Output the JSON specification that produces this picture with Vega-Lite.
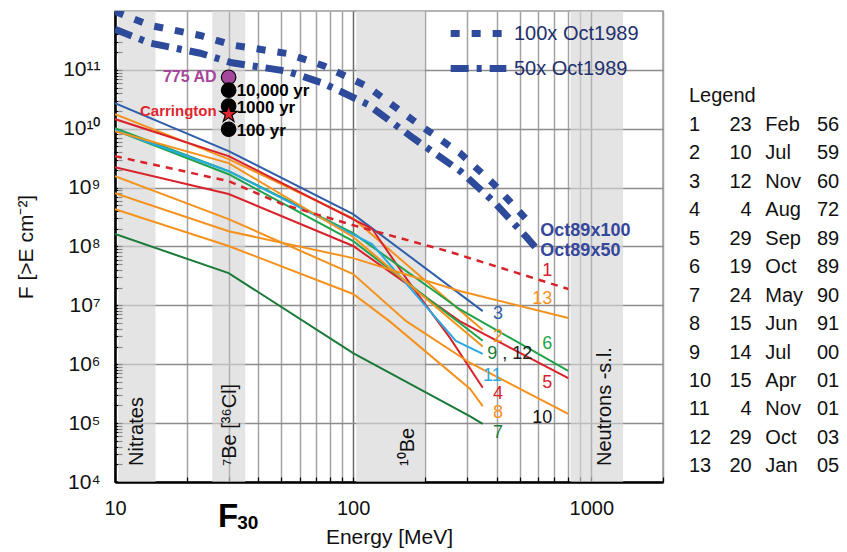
{
"$schema": "https://vega.github.io/schema/vega-lite/v6.json",
"background": "white",
"padding": {"left": 14, "top": 10, "right": 0, "bottom": 0},
"config": {"font": "Liberation Sans", "view": {"stroke": null}, "axis": {"labelColor": "#111", "titleColor": "#111"}},
"datasets": {
"bands": [{"lo": 10.3, "hi": 14.8}, {"lo": 25.6, "hi": 35.2}, {"lo": 103, "hi": 200}, {"lo": 818, "hi": 1360}],
"thin": [
{"ev":"1","E":10,"F":3.43e9},{"ev":"1","E":30,"F":1.29e9},{"ev":"1","E":50,"F":5.3e8},{"ev":"1","E":100,"F":2.3e8},{"ev":"1","E":250,"F":8.3e7},{"ev":"1","E":800,"F":1.9e7},
{"ev":"2","E":10,"F":1.77e10},{"ev":"2","E":30,"F":3.05e9},{"ev":"2","E":100,"F":3.0e8},{"ev":"2","E":350,"F":3.8e6},
{"ev":"3","E":10,"F":2.72e10},{"ev":"3","E":30,"F":4.17e9},{"ev":"3","E":100,"F":3.55e8},{"ev":"3","E":350,"F":8.0e6},
{"ev":"4","E":10,"F":1.46e10},{"ev":"4","E":30,"F":3.43e9},{"ev":"4","E":120,"F":2.0e8},{"ev":"4","E":170,"F":2.6e7},{"ev":"4","E":255,"F":2.8e6},{"ev":"4","E":350,"F":4.0e5},
{"ev":"5","E":10,"F":2.23e9},{"ev":"5","E":30,"F":7.8e8},{"ev":"5","E":100,"F":1.02e8},{"ev":"5","E":280,"F":5.4e6},{"ev":"5","E":800,"F":5.8e5},
{"ev":"6","E":10,"F":1.02e10},{"ev":"6","E":30,"F":1.91e9},{"ev":"6","E":100,"F":1.69e8},{"ev":"6","E":280,"F":8.6e6},{"ev":"6","E":800,"F":7.7e5},
{"ev":"7","E":10,"F":1.63e8},{"ev":"7","E":30,"F":3.53e7},{"ev":"7","E":100,"F":1.55e6},{"ev":"7","E":310,"F":1.3e5},{"ev":"7","E":350,"F":9.7e4},
{"ev":"8","E":10,"F":4.31e8},{"ev":"8","E":30,"F":1.02e8},{"ev":"8","E":100,"F":1.56e7},{"ev":"8","E":142,"F":5.4e6},{"ev":"8","E":310,"F":3.8e5},{"ev":"8","E":350,"F":1.95e5},
{"ev":"9","E":10,"F":9.5e9},{"ev":"9","E":30,"F":1.69e9},{"ev":"9","E":100,"F":1.24e8},{"ev":"9","E":350,"F":2.5e6},
{"ev":"10","E":10,"F":1.57e9},{"ev":"10","E":30,"F":2.92e8},{"ev":"10","E":100,"F":3.4e7},{"ev":"10","E":167,"F":5.4e6},{"ev":"10","E":310,"F":1.05e6},{"ev":"10","E":800,"F":1.43e5},
{"ev":"11","E":10,"F":9.5e9},{"ev":"11","E":30,"F":1.9e9},{"ev":"11","E":120,"F":1.1e8},{"ev":"11","E":270,"F":2.5e6},{"ev":"11","E":350,"F":1.5e6},
{"ev":"12","E":10,"F":9.1e9},{"ev":"12","E":30,"F":2.61e9},{"ev":"12","E":100,"F":1.45e8},{"ev":"12","E":350,"F":2.0e6},
{"ev":"13","E":10,"F":8.07e8},{"ev":"13","E":30,"F":1.82e8},{"ev":"13","E":100,"F":6.35e7},{"ev":"13","E":280,"F":1.75e7},{"ev":"13","E":800,"F":6.1e6}
],
"blue": [
{"s":"50x Oct1989","E":10,"F":4.9e11},{"s":"50x Oct1989","E":14,"F":2.85e11},{"s":"50x Oct1989","E":22.8,"F":1.92e11},{"s":"50x Oct1989","E":31,"F":1.32e11},{"s":"50x Oct1989","E":52.7,"F":9.5e10},{"s":"50x Oct1989","E":75,"F":5.9e10},{"s":"50x Oct1989","E":115,"F":2.6e10},{"s":"50x Oct1989","E":179,"F":6.9e9},{"s":"50x Oct1989","E":282,"F":1.9e9},{"s":"50x Oct1989","E":387,"F":5.9e8},{"s":"50x Oct1989","E":538,"F":1.4e8},{"s":"50x Oct1989","E":600,"F":8.4e7},
{"s":"100x Oct1989","E":10,"F":9.8e11},{"s":"100x Oct1989","E":14,"F":5.7e11},{"s":"100x Oct1989","E":22.8,"F":3.84e11},{"s":"100x Oct1989","E":31,"F":2.64e11},{"s":"100x Oct1989","E":52.7,"F":1.9e11},{"s":"100x Oct1989","E":75,"F":1.18e11},{"s":"100x Oct1989","E":115,"F":5.2e10},{"s":"100x Oct1989","E":179,"F":1.38e10},{"s":"100x Oct1989","E":282,"F":3.8e9},{"s":"100x Oct1989","E":387,"F":1.18e9},{"s":"100x Oct1989","E":538,"F":2.8e8},{"s":"100x Oct1989","E":555,"F":2.4e8}
],
"labs": [
{"k":"1","t":"1","E":653,"F":3.9e7},{"k":"13","t":"13","E":622,"F":1.28e7},{"k":"3","t":"3","E":406,"F":7.1e6},{"k":"2","t":"2","E":406,"F":2.9e6},{"k":"6","t":"6","E":653,"F":2.2e6},{"k":"9","t":"9","E":384,"F":1.49e6},{"k":"12","t":", 12","E":489,"F":1.49e6},{"k":"11","t":"11","E":384,"F":6.3e5},{"k":"5","t":"5","E":653,"F":4.8e5},{"k":"4","t":"4","E":406,"F":3.1e5},{"k":"8","t":"8","E":406,"F":1.5e5},{"k":"10","t":"10","E":622,"F":1.22e5},{"k":"7","t":"7","E":406,"F":6.8e4}
],
"oct": [{"t":"Oct89x100","E":611,"F":1.82e8},{"t":"Oct89x50","E":611,"F":8.4e7}],
"pts": [{"kind":"775 AD","E":30,"F":7.5e10},{"kind":"10,000 yr","E":30,"F":4.52e10},{"kind":"1000 yr","E":30,"F":2.42e10},{"kind":"100 yr","E":30,"F":9.8e9}],
"star": [{"kind":"Carrington","E":30,"F":1.77e10}],
"annR": [{"t":"775 AD","E":30,"F":7.6e10},{"t":"Carrington","E":30,"F":1.99e10}],
"annL": [{"t":"10,000 yr","E":30,"F":4.4e10},{"t":"1000 yr","E":30,"F":2.24e10},{"t":"100 yr","E":30,"F":9.1e9}],
"bandlab": [{"t":"Nitrates","E":12.4,"F":1.87e4},{"t":"⁷Be [³⁶Cl]","E":30.5,"F":1.87e4},{"t":"¹⁰Be","E":170,"F":1.87e4},{"t":"Neutrons -s.l.","E":1145,"F":1.87e4}],
"f30": [{"t":"F","E":27.1,"F":1722},{"t":"30","E":32.6,"F":1594}],
"tab": [
{"r":0,"num":"Legend","day":"","mon":"","yr":""},
{"r":1,"num":"1","day":"23","mon":"Feb","yr":"56"},
{"r":2,"num":"2","day":"10","mon":"Jul","yr":"59"},
{"r":3,"num":"3","day":"12","mon":"Nov","yr":"60"},
{"r":4,"num":"4","day":"4","mon":"Aug","yr":"72"},
{"r":5,"num":"5","day":"29","mon":"Sep","yr":"89"},
{"r":6,"num":"6","day":"19","mon":"Oct","yr":"89"},
{"r":7,"num":"7","day":"24","mon":"May","yr":"90"},
{"r":8,"num":"8","day":"15","mon":"Jun","yr":"91"},
{"r":9,"num":"9","day":"14","mon":"Jul","yr":"00"},
{"r":10,"num":"10","day":"15","mon":"Apr","yr":"01"},
{"r":11,"num":"11","day":"4","mon":"Nov","yr":"01"},
{"r":12,"num":"12","day":"29","mon":"Oct","yr":"03"},
{"r":13,"num":"13","day":"20","mon":"Jan","yr":"05"}
]
},
"spacing": 24,
"hconcat": [
{
"width": 548, "height": 471,
"view": {"stroke": "#9a9a9a", "strokeWidth": 1.5},
"resolve": {"scale": {"color": "independent", "strokeDash": "independent"}},
"layer": [
{
"data": {"name": "bands"},
"mark": {"type": "rect", "color": "#d6d6d6", "opacity": 0.65},
"encoding": {
"x": {"field": "lo", "type": "quantitative", "scale": {"type": "log", "domain": [10, 2000], "nice": false},
"axis": {"title": "Energy [MeV]", "values": [10,20,30,40,50,60,70,80,90,100,200,300,400,500,600,700,800,900,1000,2000],
"labelExpr": "datum.value==10||datum.value==100||datum.value==1000 ? format(datum.value,'d') : ''",
"labelOverlap": false, "labelFlush": false, "labelFontSize": 20, "titleFontSize": 21, "titleFontWeight": "normal", "titlePadding": 8,
"grid": true, "gridColor": {"condition": {"test": "datum.value==10||datum.value==30||datum.value==100||datum.value==1000", "value": "#6a6a6a"}, "value": "#a3a3a3"}, "gridWidth": 1.5,
"domainColor": "#000", "domainWidth": 2.5, "tickColor": "#000", "tickWidth": 1.2, "tickSize": -5, "labelPadding": 21}},
"x2": {"field": "hi"}
}
},
{
"data": {"name": "thin"},
"transform": [{"filter": "datum.ev != '1'"}],
"mark": {"type": "line", "strokeWidth": 2, "clip": true},
"encoding": {
"x": {"field": "E", "type": "quantitative", "scale": {"type": "log", "nice": false}},
"y": {"field": "F", "type": "quantitative", "scale": {"type": "log", "domain": [1e4, 1e12], "nice": false},
"axis": {"title": "F [>E cm⁻²]", "titleFontSize": 21, "titleFontWeight": "normal", "titlePadding": 0, "minExtent": 79, "maxExtent": 79,
"values": [1e4,2e4,3e4,4e4,5e4,6e4,7e4,8e4,9e4,1e5,2e5,3e5,4e5,5e5,6e5,7e5,8e5,9e5,1e6,2e6,3e6,4e6,5e6,6e6,7e6,8e6,9e6,1e7,2e7,3e7,4e7,5e7,6e7,7e7,8e7,9e7,1e8,2e8,3e8,4e8,5e8,6e8,7e8,8e8,9e8,1e9,2e9,3e9,4e9,5e9,6e9,7e9,8e9,9e9,1e10,2e10,3e10,4e10,5e10,6e10,7e10,8e10,9e10,1e11,2e11,3e11,4e11,5e11],
"labelExpr": "abs(log(datum.value)/LN10 - round(log(datum.value)/LN10)) < 0.001 && datum.value < 5e11 ? '10' + ['⁰','¹','²','³','⁴','⁵','⁶','⁷','⁸','⁹','¹⁰','¹¹'][round(log(datum.value)/LN10)] : ''",
"labelOverlap": false, "labelFlush": false, "labelFontSize": 21, "labelPadding": 22,
"grid": true, "gridColor": "#8c8c8c", "gridWidth": 1.5,
"gridOpacity": {"condition": {"test": "abs(log(datum.value)/LN10 - round(log(datum.value)/LN10)) < 0.001", "value": 1}, "value": 0},
"domainColor": "#000", "domainWidth": 2.5, "tickColor": "#000", "tickWidth": 1.2, "tickSize": -7}},
"color": {"field": "ev", "type": "nominal", "legend": null,
"scale": {"domain": ["2","3","4","5","6","7","8","9","10","11","12","13"], "range": ["#f5921e","#2f5fab","#d9232b","#d9232b","#1fa34a","#1b7a3a","#f5921e","#1fa34a","#f5921e","#2aa9e0","#f5921e","#f5921e"]}}
}
},
{
"data": {"name": "thin"},
"transform": [{"filter": "datum.ev == '1'"}],
"mark": {"type": "line", "strokeWidth": 2.5, "color": "#d9232b", "strokeDash": [7, 6], "clip": true},
"encoding": {
"x": {"field": "E", "type": "quantitative", "scale": {"type": "log"}},
"y": {"field": "F", "type": "quantitative", "scale": {"type": "log"}}
}
},
{
"data": {"name": "blue"},
"mark": {"type": "line", "strokeWidth": 7, "color": "#2d4a9b", "clip": true},
"encoding": {
"x": {"field": "E", "type": "quantitative", "scale": {"type": "log"}},
"y": {"field": "F", "type": "quantitative", "scale": {"type": "log"}},
"strokeDash": {"field": "s", "type": "nominal",
"scale": {"domain": ["100x Oct1989", "50x Oct1989"], "range": [[9, 12], [18, 8, 5, 8]]},
"legend": {"title": null, "orient": "none", "legendX": 332, "legendY": 5, "symbolType": "stroke", "symbolStrokeWidth": 7, "symbolSize": 3100, "clipHeight": 35, "symbolStrokeColor": "#2d4a9b", "labelFontSize": 20, "labelColor": "#23306e", "rowPadding": 0, "labelOffset": 4, "padding": 0}}
}
},
{
"data": {"name": "labs"},
"mark": {"type": "text", "fontSize": 18, "align": "center", "baseline": "middle"},
"encoding": {
"x": {"field": "E", "type": "quantitative", "scale": {"type": "log"}},
"y": {"field": "F", "type": "quantitative", "scale": {"type": "log"}},
"text": {"field": "t"},
"color": {"field": "k", "type": "nominal", "legend": null,
"scale": {"domain": ["1","2","3","4","5","6","7","8","9","10","11","12","13"], "range": ["#d9232b","#f5921e","#2f5fab","#d9232b","#d9232b","#1fa34a","#1b7a3a","#f5921e","#1b7a3a","#111111","#2aa9e0","#222222","#f5921e"]}}
}
},
{
"data": {"name": "oct"},
"mark": {"type": "text", "fontSize": 18, "fontWeight": "bold", "align": "left", "baseline": "middle", "color": "#34479a"},
"encoding": {
"x": {"field": "E", "type": "quantitative", "scale": {"type": "log"}},
"y": {"field": "F", "type": "quantitative", "scale": {"type": "log"}},
"text": {"field": "t"}
}
},
{
"data": {"name": "pts"},
"mark": {"type": "point", "filled": true, "size": 210, "shape": "circle", "stroke": "#000", "strokeWidth": 1.2, "opacity": 1},
"encoding": {
"x": {"field": "E", "type": "quantitative", "scale": {"type": "log"}},
"y": {"field": "F", "type": "quantitative", "scale": {"type": "log"}},
"color": {"field": "kind", "type": "nominal", "legend": null, "scale": {"domain": ["775 AD","10,000 yr","1000 yr","100 yr"], "range": ["#a5479b","#000000","#000000","#000000"]}}
}
},
{
"data": {"name": "star"},
"mark": {"type": "point", "filled": true, "size": 330, "shape": "M0,-1L0.2245,-0.309L0.951,-0.309L0.363,0.118L0.588,0.809L0,0.382L-0.588,0.809L-0.363,0.118L-0.951,-0.309L-0.2245,-0.309Z", "fill": "#e0262e", "stroke": "#000", "strokeWidth": 1.2, "opacity": 1},
"encoding": {
"x": {"field": "E", "type": "quantitative", "scale": {"type": "log"}},
"y": {"field": "F", "type": "quantitative", "scale": {"type": "log"}}
}
},
{
"data": {"name": "annR"},
"mark": {"type": "text", "fontWeight": "bold", "align": "right", "baseline": "middle", "dx": -12},
"encoding": {
"x": {"field": "E", "type": "quantitative", "scale": {"type": "log"}},
"y": {"field": "F", "type": "quantitative", "scale": {"type": "log"}},
"text": {"field": "t"},
"size": {"field": "t", "type": "nominal", "legend": null, "scale": {"domain": ["775 AD", "Carrington"], "range": [16, 15]}},
"color": {"field": "t", "type": "nominal", "legend": null, "scale": {"domain": ["775 AD", "Carrington"], "range": ["#a5479b", "#e0262e"]}}
}
},
{
"data": {"name": "annL"},
"mark": {"type": "text", "fontWeight": "bold", "fontSize": 17, "align": "left", "baseline": "middle", "dx": 8, "color": "#000"},
"encoding": {
"x": {"field": "E", "type": "quantitative", "scale": {"type": "log"}},
"y": {"field": "F", "type": "quantitative", "scale": {"type": "log"}},
"text": {"field": "t"}
}
},
{
"data": {"name": "bandlab"},
"mark": {"type": "text", "fontSize": 20, "angle": 270, "align": "left", "baseline": "middle", "color": "#111"},
"encoding": {
"x": {"field": "E", "type": "quantitative", "scale": {"type": "log"}},
"y": {"field": "F", "type": "quantitative", "scale": {"type": "log"}},
"text": {"field": "t"}
}
},
{
"data": {"name": "f30"},
"transform": [{"filter": "datum.t == 'F'"}],
"mark": {"type": "text", "fontSize": 33, "fontWeight": "bold", "align": "left", "baseline": "alphabetic", "color": "#000"},
"encoding": {
"x": {"field": "E", "type": "quantitative", "scale": {"type": "log"}},
"y": {"field": "F", "type": "quantitative", "scale": {"type": "log"}},
"text": {"field": "t"}
}
},
{
"data": {"name": "f30"},
"transform": [{"filter": "datum.t == '30'"}],
"mark": {"type": "text", "fontSize": 19, "fontWeight": "bold", "align": "left", "baseline": "alphabetic", "color": "#000"},
"encoding": {
"x": {"field": "E", "type": "quantitative", "scale": {"type": "log"}},
"y": {"field": "F", "type": "quantitative", "scale": {"type": "log"}},
"text": {"field": "t"}
}
}
]
},
{
"width": 128, "height": 471,
"data": {"name": "tab"},
"encoding": {
"y": {"field": "r", "type": "quantitative", "scale": {"domain": [-3, 13.55], "reverse": true, "nice": false, "zero": false}, "axis": null}
},
"layer": [
{"mark": {"type": "text", "fontSize": 20, "align": "left", "baseline": "middle", "color": "#111"},
 "encoding": {"x": {"datum": "num", "type": "nominal", "scale": {"type": "point", "domain": ["num","day","mon","yr"], "padding": 0}, "axis": null}, "text": {"field": "num"}}},
{"mark": {"type": "text", "fontSize": 20, "align": "right", "baseline": "middle", "dx": 20, "color": "#111"},
 "encoding": {"x": {"datum": "day", "type": "nominal"}, "text": {"field": "day"}}},
{"mark": {"type": "text", "fontSize": 20, "align": "left", "baseline": "middle", "dx": -9, "color": "#111"},
 "encoding": {"x": {"datum": "mon", "type": "nominal"}, "text": {"field": "mon"}}},
{"mark": {"type": "text", "fontSize": 20, "align": "left", "baseline": "middle", "color": "#111"},
 "encoding": {"x": {"datum": "yr", "type": "nominal"}, "text": {"field": "yr"}}}
]
}
]
}
